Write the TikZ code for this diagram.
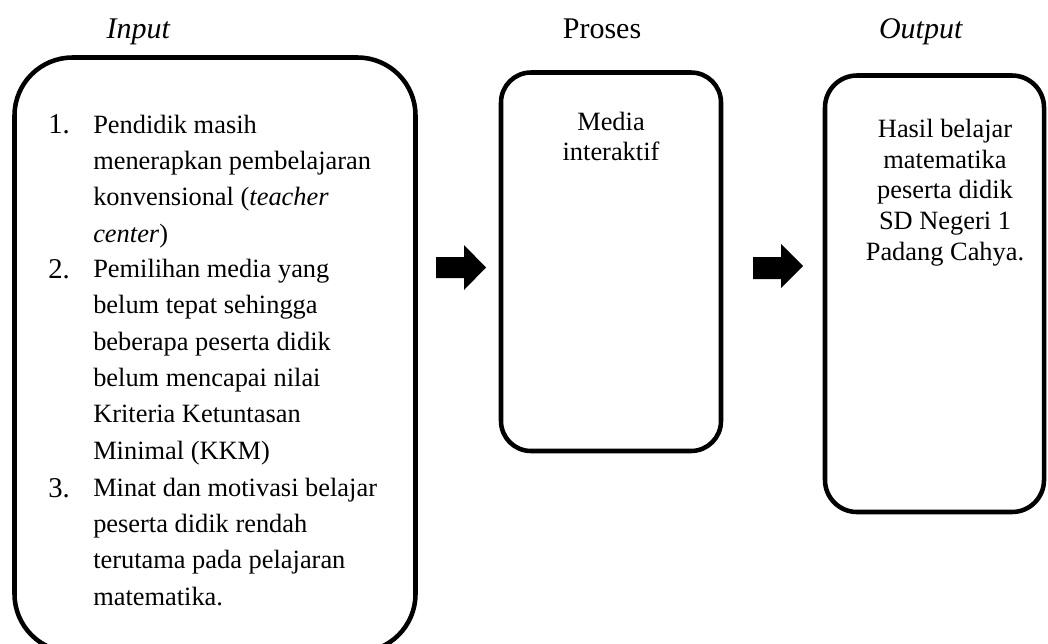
\documentclass[tikz,border=0pt]{standalone}
\usepackage{fontspec}
\setmainfont{Liberation Serif}

\begin{document}
\begin{tikzpicture}[x=0.75pt,y=0.75pt,yscale=-1,xscale=1,
    roundbox/.style={line width=3.4pt},
    listtext/.style={anchor=base west,inner sep=0pt,align=left,font=\fontsize{19.8}{27.2}\selectfont},
    numtext/.style={anchor=base west,inner sep=0pt,font=\fontsize{21.5}{27.2}\selectfont},
    boxtext/.style={anchor=base,inner sep=0pt,align=center,font=\fontsize{19.8}{23}\selectfont},
    headtext/.style={anchor=base,inner sep=0pt,font=\fontsize{22.5}{26}\selectfont}]
    \path[use as bounding box] (0,0) rectangle (1048,643);

    %Shape: Rectangle [id:input box]
    \draw [roundbox, rounded corners=43.5pt] (14.5,57.5) rectangle (415.5,652);
    %Shape: Rectangle [id:proses box]
    \draw [roundbox, rounded corners=22.5pt] (501,72.5) rectangle (721,451);
    %Shape: Rectangle [id:output box]
    \draw [roundbox, rounded corners=24pt] (825,75.5) rectangle (1044,512);

    %Shape: Right Arrow [id:arrow one]
    \fill (436,257) -- (464,257) -- (464,245) -- (486,267.5) -- (464,290) -- (464,278) -- (436,278) -- cycle ;
    %Shape: Right Arrow [id:arrow two]
    \fill (753,257) -- (781,257) -- (781,244) -- (803,266) -- (781,288) -- (781,279) -- (753,279) -- cycle ;

    % Text Node
    \node [headtext] (input) at (138.5,38) {\textit{Input}};
    % Text Node
    \node [headtext] (proses) at (602,38) {Proses};
    % Text Node
    \node [headtext] (output) at (921,38) {\textit{Output}};

    % Text Node (base = last line)
    \node [numtext] (num1) at (48,133) {1.};
    \node [listtext] (item1) at (93,242) {Pendidik masih\\menerapkan pembelajaran\\konvensional (\textit{teacher}\\\textit{center})};
    % Text Node
    \node [numtext] (num2) at (48,278) {2.};
    \node [listtext] (item2) at (93,459) {Pemilihan media yang\\belum tepat sehingga\\beberapa peserta didik\\belum mencapai nilai\\Kriteria Ketuntasan\\Minimal (KKM)};
    % Text Node
    \node [numtext] (num3) at (48,497) {3.};
    \node [listtext] (item3) at (93,605) {Minat dan motivasi belajar\\peserta didik rendah\\terutama pada pelajaran\\matematika.};

    % Text Node
    \node [boxtext,font=\fontsize{19.8}{22.5}\selectfont] (media) at (611,160) {Media\\interaktif};
    % Text Node
    \node [boxtext] (hasil) at (945,260) {Hasil belajar\\matematika\\peserta didik\\SD Negeri 1\\Padang Cahya.};

\end{tikzpicture}
\end{document}
